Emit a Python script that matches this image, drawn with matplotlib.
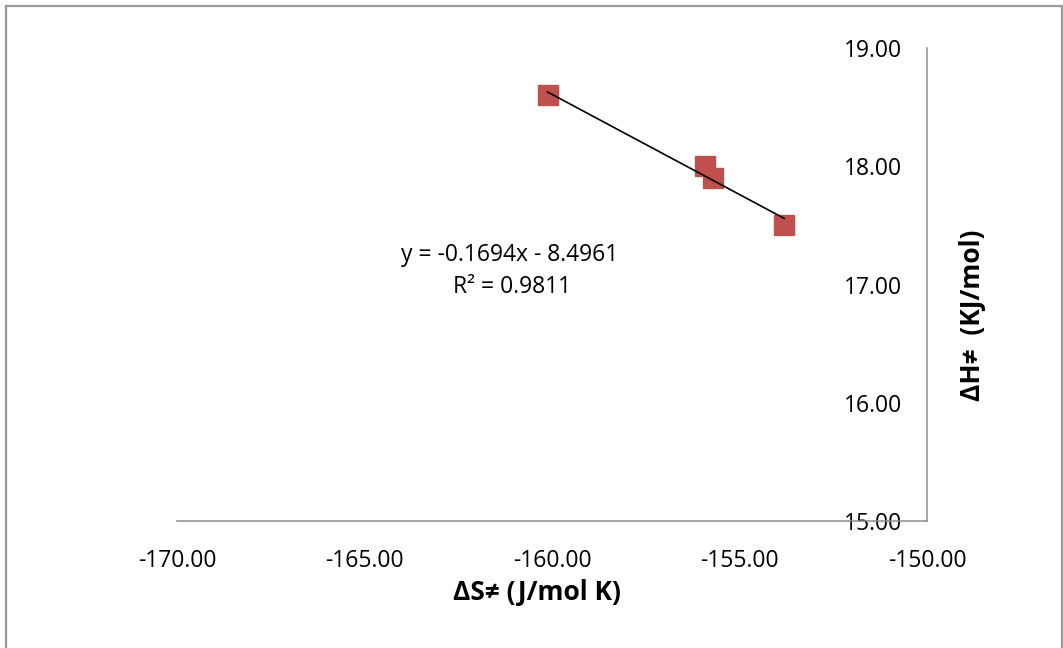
import numpy as np
import matplotlib
matplotlib.use("Agg")
import matplotlib.pyplot as plt
from matplotlib.patches import Rectangle

# Data
delta_S = [-160.12, -155.92, -155.71, -153.81]   # J/mol K
delta_H = [18.60, 18.00, 17.90, 17.50]            # KJ/mol
fit_slope = -0.1694
fit_intercept = -8.4961
fit_r2 = 0.9811
x_ticks = [-170, -165, -160, -155, -150]
y_ticks = [15, 16, 17, 18, 19]

plt.rcParams['font.family'] = ['Open Sans', 'DejaVu Sans']

W, H = 1063, 648
fig = plt.figure(figsize=(W / 100, H / 100), dpi=100)
fig.patch.set_facecolor('white')

# outer chart border
fig.patches.append(Rectangle((6 / W, -0.01), (1062 - 6) / W, 1.01 - 5.5 / H,
                             transform=fig.transFigure, fill=False,
                             edgecolor='#9a9a9a', linewidth=1.6))

ax = fig.add_axes([177 / W, 1 - 521 / H, (927 - 177) / W, (521 - 48) / H])
ax.set_xlim(-170, -150)
ax.set_ylim(15, 19)

for s in ['top', 'right']:
    ax.spines[s].set_visible(False)
ax.spines['left'].set_position(('data', -150))
ax.spines['left'].set_color('#8c8c8c')
ax.spines['bottom'].set_color('#8c8c8c')
ax.spines['left'].set_linewidth(1.1)
ax.spines['bottom'].set_linewidth(1.1)

ax.set_xticks(x_ticks)
ax.set_xticklabels([f"{v:.2f}" for v in x_ticks])
ax.set_yticks(y_ticks)
ax.set_yticklabels([f"{v:.2f}" for v in y_ticks])
ax.tick_params(axis='both', length=0, labelsize=16.5, colors='black')
ax.tick_params(axis='y', pad=18)
ax.tick_params(axis='x', pad=20)

# trend line
xs = np.array([min(delta_S), max(delta_S)])
ax.plot(xs, fit_slope * xs + fit_intercept, color='black', linewidth=1.2, zorder=3)

ax.plot(delta_S, delta_H, linestyle='none', marker='s', markersize=14.5,
        markerfacecolor='#C0504D', markeredgecolor='#C0504D', zorder=2)

fig.text(510 / W, 1 - 255 / H, f"y = {fit_slope}x - {abs(fit_intercept)}",
         ha='center', va='center', fontsize=16.5)
fig.text(512 / W, 1 - 287 / H, f"R² = {fit_r2}",
         ha='center', va='center', fontsize=16.5)

fig.text(537 / W, 1 - 593 / H, "ΔS≠ (J/mol K)", ha='center', va='center',
         fontsize=19, fontweight='bold')
fig.text(972 / W, 1 - 315 / H, "ΔH≠  (KJ/mol)", ha='center', va='center',
         fontsize=19, fontweight='bold', rotation=90)

fig.savefig('out.png', dpi=100)
